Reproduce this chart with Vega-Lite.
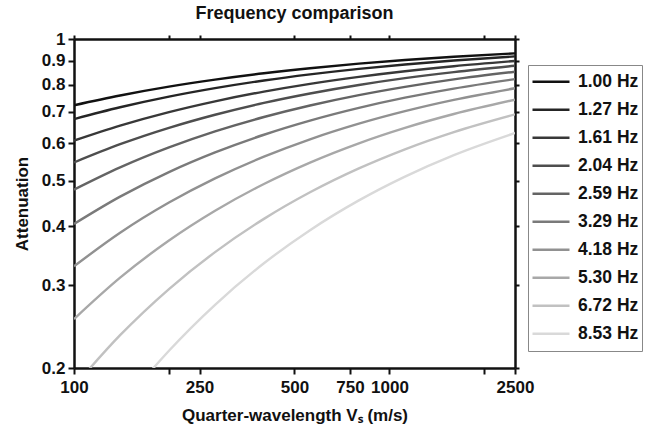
{
  "$schema": "https://vega.github.io/schema/vega-lite/v6.json",
  "width": 441,
  "height": 329,
  "autosize": {"type": "none"},
  "padding": {"left": 74, "top": 39, "right": 139, "bottom": 66},
  "background": "white",
  "title": {"text": "Frequency comparison", "font": "Liberation Sans", "fontSize": 18, "fontWeight": "bold", "color": "#111", "offset": 7, "anchor": "middle"},
  "config": {
    "view": {"stroke": null},
    "axis": {"grid": false, "domainColor": "#111", "domainWidth": 2.5, "tickColor": "#111", "tickWidth": 2, "tickSize": 6, "labelFont": "Liberation Sans", "labelFontSize": 17, "labelFontWeight": "bold", "labelColor": "#111", "titleFont": "Liberation Sans", "titleFontSize": 17, "titleFontWeight": "bold", "titleColor": "#111"}
  },
  "data": {"values": [
    {"v":100,"f":"1.00 Hz","a":0.7233},{"v":140,"f":"1.00 Hz","a":0.7587},{"v":200,"f":"1.00 Hz","a":0.7921},{"v":280,"f":"1.00 Hz","a":0.8198},{"v":400,"f":"1.00 Hz","a":0.8456},{"v":560,"f":"1.00 Hz","a":0.8668},{"v":800,"f":"1.00 Hz","a":0.8863},{"v":1120,"f":"1.00 Hz","a":0.9023},{"v":1600,"f":"1.00 Hz","a":0.9169},{"v":2500,"f":"1.00 Hz","a":0.9322},
    {"v":100,"f":"1.27 Hz","a":0.6757},{"v":140,"f":"1.27 Hz","a":0.7160},{"v":200,"f":"1.27 Hz","a":0.7543},{"v":280,"f":"1.27 Hz","a":0.7863},{"v":400,"f":"1.27 Hz","a":0.8164},{"v":560,"f":"1.27 Hz","a":0.8411},{"v":800,"f":"1.27 Hz","a":0.8642},{"v":1120,"f":"1.27 Hz","a":0.8830},{"v":1600,"f":"1.27 Hz","a":0.9003},{"v":2500,"f":"1.27 Hz","a":0.9185},
    {"v":100,"f":"1.61 Hz","a":0.6084},{"v":140,"f":"1.61 Hz","a":0.6547},{"v":200,"f":"1.61 Hz","a":0.6994},{"v":280,"f":"1.61 Hz","a":0.7373},{"v":400,"f":"1.61 Hz","a":0.7731},{"v":560,"f":"1.61 Hz","a":0.8031},{"v":800,"f":"1.61 Hz","a":0.8310},{"v":1120,"f":"1.61 Hz","a":0.8541},{"v":1600,"f":"1.61 Hz","a":0.8754},{"v":2500,"f":"1.61 Hz","a":0.8979},
    {"v":100,"f":"2.04 Hz","a":0.5466},{"v":140,"f":"2.04 Hz","a":0.5976},{"v":200,"f":"2.04 Hz","a":0.6475},{"v":280,"f":"2.04 Hz","a":0.6904},{"v":400,"f":"2.04 Hz","a":0.7316},{"v":560,"f":"2.04 Hz","a":0.7661},{"v":800,"f":"2.04 Hz","a":0.7986},{"v":1120,"f":"2.04 Hz","a":0.8256},{"v":1600,"f":"2.04 Hz","a":0.8506},{"v":2500,"f":"2.04 Hz","a":0.8773},
    {"v":100,"f":"2.59 Hz","a":0.4786},{"v":140,"f":"2.59 Hz","a":0.5336},{"v":200,"f":"2.59 Hz","a":0.5884},{"v":280,"f":"2.59 Hz","a":0.6364},{"v":400,"f":"2.59 Hz","a":0.6828},{"v":560,"f":"2.59 Hz","a":0.7224},{"v":800,"f":"2.59 Hz","a":0.7600},{"v":1120,"f":"2.59 Hz","a":0.7914},{"v":1600,"f":"2.59 Hz","a":0.8209},{"v":2500,"f":"2.59 Hz","a":0.8523},
    {"v":100,"f":"3.29 Hz","a":0.4046},{"v":140,"f":"3.29 Hz","a":0.4624},{"v":200,"f":"3.29 Hz","a":0.5215},{"v":280,"f":"3.29 Hz","a":0.5741},{"v":400,"f":"3.29 Hz","a":0.6260},{"v":560,"f":"3.29 Hz","a":0.6708},{"v":800,"f":"3.29 Hz","a":0.7139},{"v":1120,"f":"3.29 Hz","a":0.7504},{"v":1600,"f":"3.29 Hz","a":0.7847},{"v":2500,"f":"3.29 Hz","a":0.8218},
    {"v":100,"f":"4.18 Hz","a":0.3289},{"v":140,"f":"4.18 Hz","a":0.3876},{"v":200,"f":"4.18 Hz","a":0.4493},{"v":280,"f":"4.18 Hz","a":0.5057},{"v":400,"f":"4.18 Hz","a":0.5624},{"v":560,"f":"4.18 Hz","a":0.6123},{"v":800,"f":"4.18 Hz","a":0.6609},{"v":1120,"f":"4.18 Hz","a":0.7026},{"v":1600,"f":"4.18 Hz","a":0.7424},{"v":2500,"f":"4.18 Hz","a":0.7858},
    {"v":100,"f":"5.30 Hz","a":0.2541},{"v":140,"f":"5.30 Hz","a":0.3111},{"v":200,"f":"5.30 Hz","a":0.3732},{"v":280,"f":"5.30 Hz","a":0.4317},{"v":400,"f":"5.30 Hz","a":0.4921},{"v":560,"f":"5.30 Hz","a":0.5464},{"v":800,"f":"5.30 Hz","a":0.6004},{"v":1120,"f":"5.30 Hz","a":0.6474},{"v":1600,"f":"5.30 Hz","a":0.6928},{"v":2500,"f":"5.30 Hz","a":0.7430},
    {"v":100,"f":"6.72 Hz","a":0.1827},{"v":140,"f":"6.72 Hz","a":0.2348},{"v":200,"f":"6.72 Hz","a":0.2943},{"v":280,"f":"6.72 Hz","a":0.3526},{"v":400,"f":"6.72 Hz","a":0.4148},{"v":560,"f":"6.72 Hz","a":0.4724},{"v":800,"f":"6.72 Hz","a":0.5310},{"v":1120,"f":"6.72 Hz","a":0.5830},{"v":1600,"f":"6.72 Hz","a":0.6342},{"v":2500,"f":"6.72 Hz","a":0.6917},
    {"v":100,"f":"8.53 Hz","a":0.1200},{"v":140,"f":"8.53 Hz","a":0.1642},{"v":200,"f":"8.53 Hz","a":0.2176},{"v":280,"f":"8.53 Hz","a":0.2725},{"v":400,"f":"8.53 Hz","a":0.3338},{"v":560,"f":"8.53 Hz","a":0.3925},{"v":800,"f":"8.53 Hz","a":0.4541},{"v":1120,"f":"8.53 Hz","a":0.5102},{"v":1600,"f":"8.53 Hz","a":0.5667},{"v":2500,"f":"8.53 Hz","a":0.6315}
  ]},
  "layer": [
    {
      "mark": {"type": "line", "clip": true, "interpolate": "monotone", "strokeWidth": 2.4},
      "encoding": {
        "x": {"field": "v", "type": "quantitative", "scale": {"type": "log", "domain": [100, 2500], "nice": false},
          "axis": {"orient": "bottom", "values": [100, 200, 250, 500, 750, 1000, 2000, 2500], "labelExpr": "datum.value == 200 || datum.value == 2000 ? '' : format(datum.value, 'd')", "labelFlush": false, "labelOverlap": false, "labelPadding": 5, "title": "Quarter-wavelength Vₛ (m/s)", "titlePadding": 12}},
        "y": {"field": "a", "type": "quantitative", "scale": {"type": "log", "domain": [0.2, 1], "nice": false},
          "axis": {"orient": "left", "values": [0.2, 0.3, 0.4, 0.5, 0.6, 0.7, 0.8, 0.9, 1], "labelExpr": "datum.value == 1 ? '1' : format(datum.value, '.1f')", "labelFlush": false, "labelOverlap": false, "labelPadding": 3, "title": "Attenuation", "titlePadding": 10}},
        "color": {"field": "f", "type": "nominal",
          "scale": {"domain": ["1.00 Hz", "1.27 Hz", "1.61 Hz", "2.04 Hz", "2.59 Hz", "3.29 Hz", "4.18 Hz", "5.30 Hz", "6.72 Hz", "8.53 Hz"],
            "range": ["#111111", "#252525", "#383838", "#4e4e4e", "#646464", "#7a7a7a", "#919191", "#a8a8a8", "#c1c1c1", "#d9d9d9"]},
          "legend": {"orient": "none", "legendX": 454, "legendY": 26, "title": null, "symbolType": "stroke", "symbolSize": 1369, "symbolStrokeWidth": 2.4, "clipHeight": 27.4, "rowPadding": 0, "padding": 3, "strokeColor": "#888", "fillColor": "white", "labelFont": "Liberation Sans", "labelFontSize": 17.5, "labelFontWeight": "bold", "labelColor": "#111", "labelOffset": 7}}
      }
    },
    {
      "mark": {"type": "line", "opacity": 0},
      "encoding": {
        "x": {"field": "v", "type": "quantitative", "axis": {"orient": "top", "values": [100, 200, 250, 500, 750, 1000, 2000, 2500], "labels": false, "title": null, "tickSize": 4}},
        "y": {"field": "a", "type": "quantitative", "axis": {"orient": "right", "values": [0.2, 0.3, 0.4, 0.5, 0.6, 0.7, 0.8, 0.9, 1], "labels": false, "title": null, "tickSize": 4}},
        "detail": {"field": "f"}
      }
    }
  ],
  "resolve": {"axis": {"x": "independent", "y": "independent"}}
}
